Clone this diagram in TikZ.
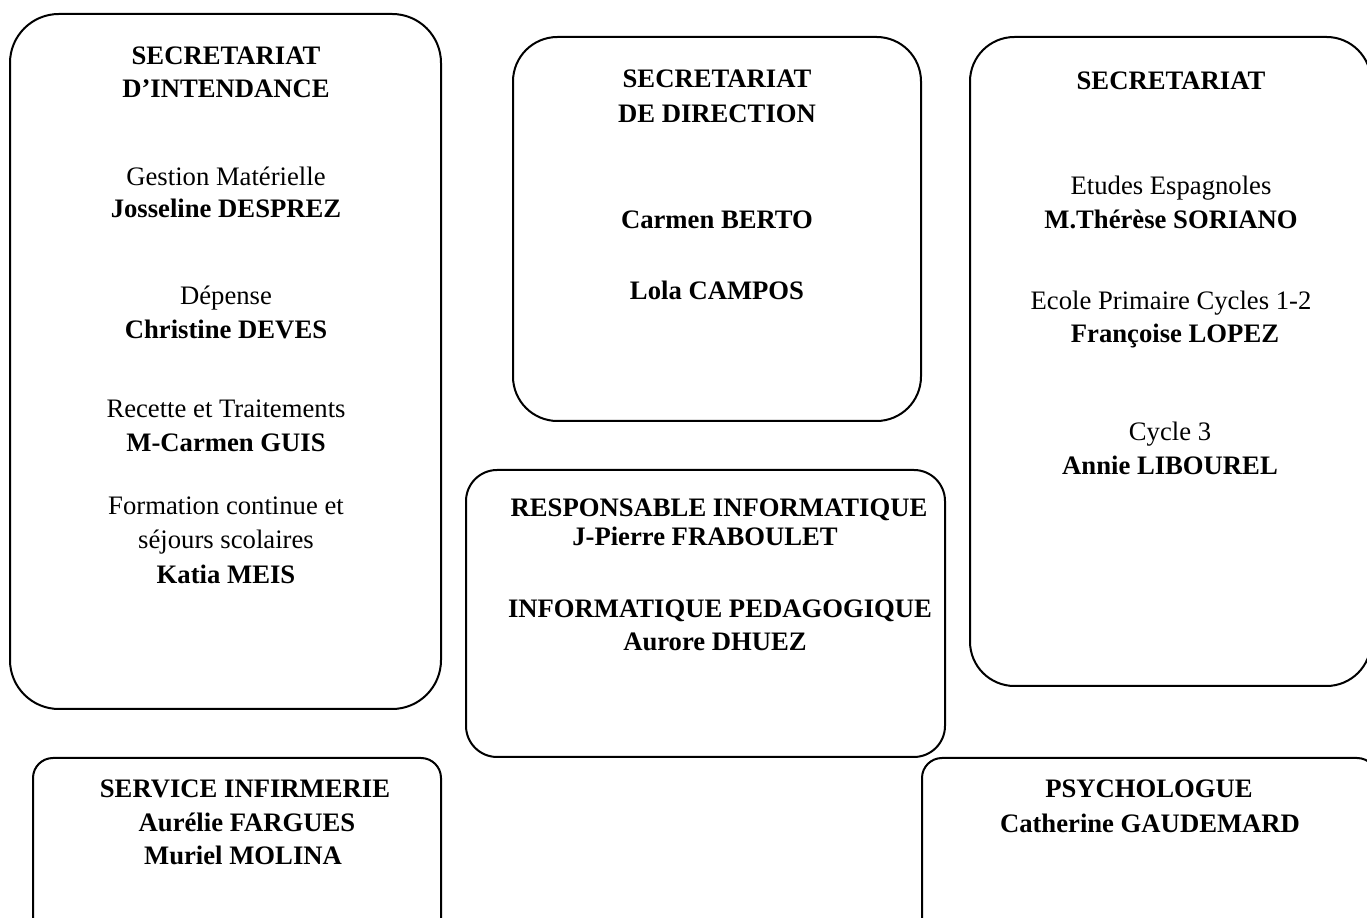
\documentclass[tikz,border=0pt]{standalone}
\usepackage{fontspec}
\setmainfont{Liberation Serif}
\usepackage{tikz}
\usetikzlibrary{positioning}
\tikzset{
  panel/.style={draw=black,line width=0.9pt,rounded corners=#1},
  tx/.style={anchor=base,inner sep=0pt,font=\fontsize{12}{14}\selectfont},
  hd/.style={tx,font=\fontsize{12}{14}\selectfont\bfseries}
}

\begin{document}
\begin{tikzpicture}[x=0.45pt,y=-0.45pt]
\useasboundingbox (0,0) rectangle (1367,918);
% cadres
\draw[panel=22pt] (10,14) rectangle (441,709);
\draw[panel=20pt] (513,37) rectangle (921,421);
\draw[panel=20pt] (970,37) rectangle (1371,686);
\draw[panel=14pt] (466,470) rectangle (945,757);
\draw[panel=9pt] (33,758) rectangle (441,940);
\draw[panel=9pt] (922,758) rectangle (1377,940);
% intendance
\node[hd] (si1) at (226,65) {SECRETARIAT};
\node[hd] (si2) at (226,98) {D’INTENDANCE};
\node[tx] (gm) at (226,186) {Gestion Matérielle};
\node[hd] (gmn) at (226,218) {Josseline DESPREZ};
\node[tx] (dp) at (226,305) {Dépense};
\node[hd] (dpn) at (226,339) {Christine DEVES};
\node[tx] (rt) at (226,418) {Recette et Traitements};
\node[hd] (rtn) at (226,452) {M-Carmen GUIS};
\node[tx] (fc1) at (226,515) {Formation continue et};
\node[tx] (fc2) at (226,549) {séjours scolaires};
\node[hd] (fcn) at (226,584) {Katia MEIS};
% direction
\node[hd] (sd1) at (717,88) {SECRETARIAT};
\node[hd] (sd2) at (717,123) {DE DIRECTION};
\node[hd] (cb) at (717,229) {Carmen BERTO};
\node[hd] (lc) at (717,300) {Lola CAMPOS};
% secretariat
\node[hd] (se) at (1171,90) {SECRETARIAT};
\node[tx] (ee) at (1171,195) {Etudes Espagnoles};
\node[hd] (een) at (1171,229) {M.Thérèse SORIANO};
\node[tx] (ep) at (1171,310) {Ecole Primaire Cycles 1-2};
\node[hd] (epn) at (1175,343) {Françoise LOPEZ};
\node[tx] (c3) at (1170,441) {Cycle 3};
\node[hd] (c3n) at (1170,475) {Annie LIBOUREL};
% informatique
\node[hd] (ri) at (719,517) {RESPONSABLE INFORMATIQUE};
\node[hd] (rin) at (705,546) {J-Pierre FRABOULET};
\node[hd] (ip) at (720,618) {INFORMATIQUE PEDAGOGIQUE};
\node[hd] (ipn) at (715,651) {Aurore DHUEZ};
% infirmerie
\node[hd] (inf) at (245,798) {SERVICE INFIRMERIE};
\node[hd] (af) at (247,832) {Aurélie FARGUES};
\node[hd] (mm) at (243,865) {Muriel MOLINA};
% psychologue
\node[hd] (ps) at (1149,798) {PSYCHOLOGUE};
\node[hd] (cg) at (1150,833) {Catherine GAUDEMARD};
\end{tikzpicture}
\end{document}
